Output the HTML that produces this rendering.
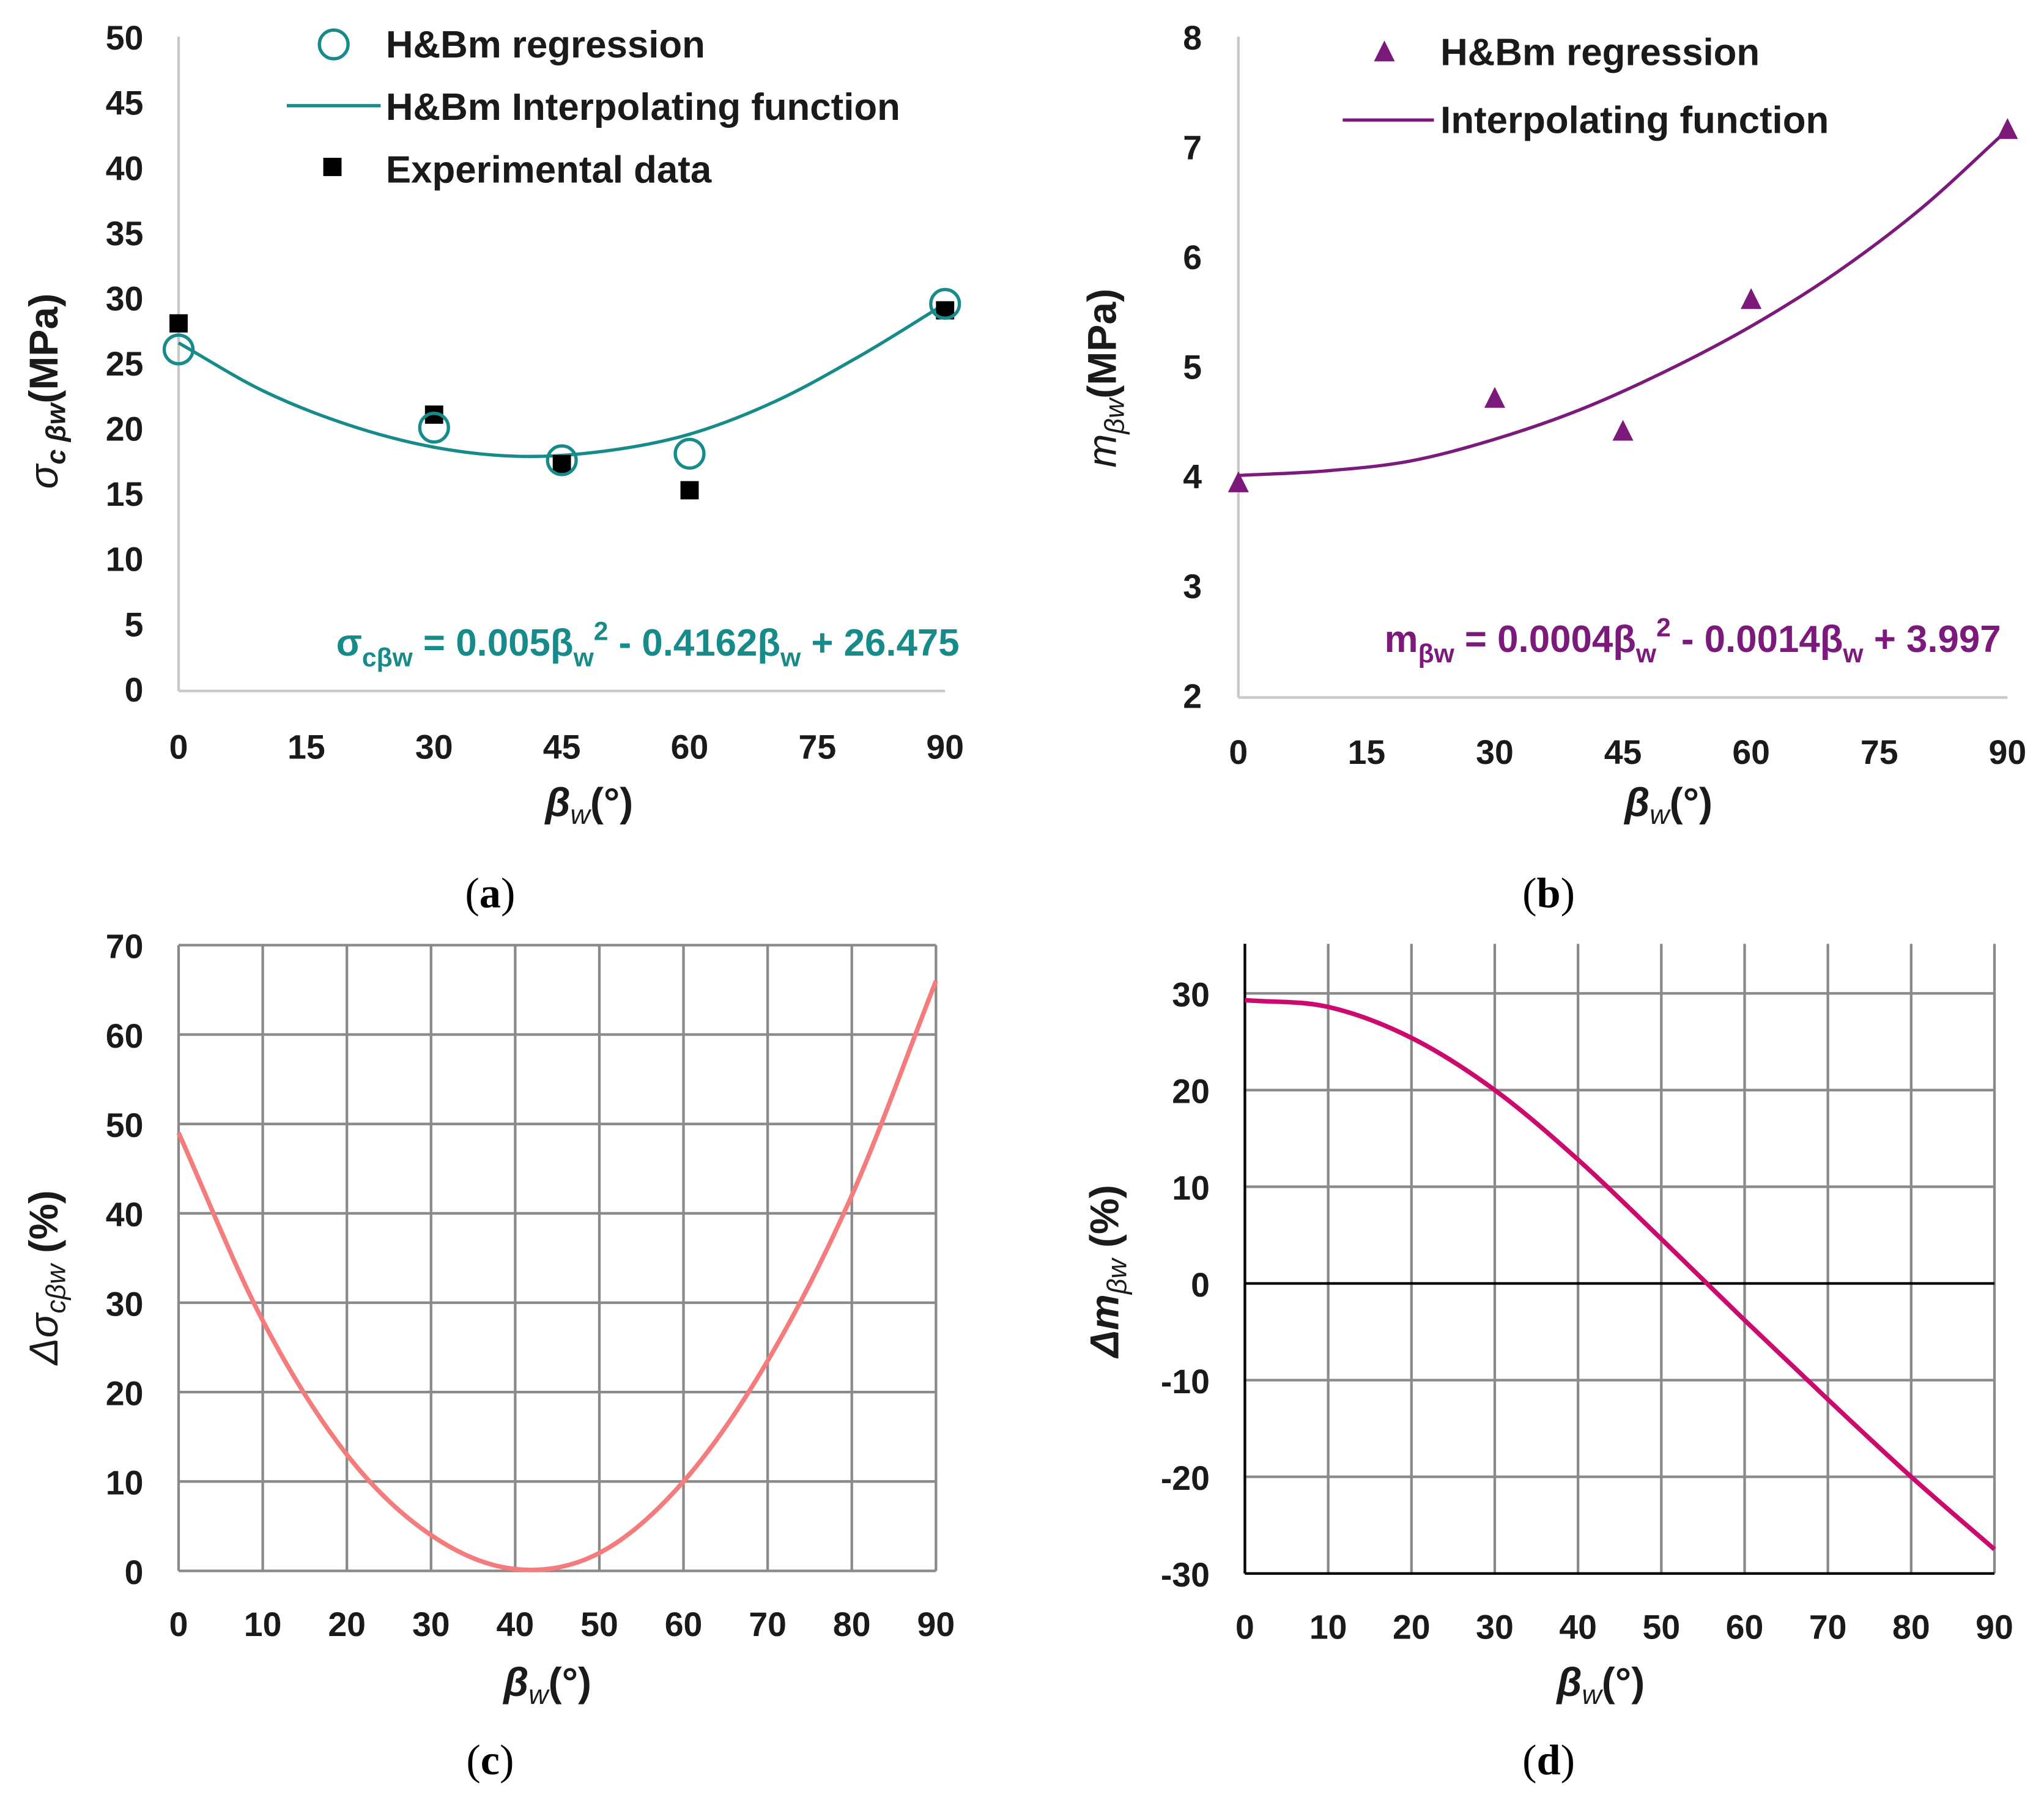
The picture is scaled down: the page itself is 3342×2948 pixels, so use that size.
<!DOCTYPE html>
<html><head><meta charset="utf-8">
<style>
html,body{margin:0;padding:0;background:#fff;}
svg{display:block;}
text{font-family:"Liberation Sans",sans-serif;}
.tk{font-size:26px;font-weight:bold;fill:#1a1a1a;}
.lg{font-size:29px;font-weight:bold;fill:#1a1a1a;}
.ax{font-size:31px;font-weight:bold;fill:#1a1a1a;}
.cap{font-family:"Liberation Serif",serif;font-size:33px;fill:#000;}
</style></head>
<body>
<svg id="fig" width="3342" height="2948" viewBox="0 0 1568 1383" xmlns="http://www.w3.org/2000/svg">
<g id="pa"></g>
<g id="pb"></g>
<g id="pc"></g>
<g id="pd"></g>
</svg>
<script>
// Panel a data
const aTicksX = [0,15,30,45,60,75,90];
const aTicksY = [0,5,10,15,20,25,30,35,40,45,50];
const aRegX = [0,30,45,60,90];
const aRegY = [26,20,17.5,18,29.5];
const aExpX = [0,30,45,60,90];
const aExpY = [28,21,17.2,15.2,29];
const aCurveX = [0,10,20,30,40,50,60,70,80,90];
const aCurveY = [26.5,22.8,20.2,18.5,17.8,18.2,19.5,22,25.5,29.5];
// Panel b data
const bTicksX = [0,15,30,45,60,75,90];
const bTicksY = [2,3,4,5,6,7,8];
const bRegX = [0,30,45,60,90];
const bRegY = [3.93,4.7,4.4,5.6,7.15];
const bCurveX = [0,10,20,30,40,50,60,70,80,90];
const bCurveY = [4.0,4.04,4.13,4.33,4.6,4.95,5.36,5.85,6.44,7.15];
// Panel c data
const cTicksX = [0,10,20,30,40,50,60,70,80,90];
const cTicksY = [0,10,20,30,40,50,60,70];
const cCurveX = [0,10,20,30,40,50,60,70,80,90];
const cCurveY = [49,28,13,4,0.2,2,10,23.5,42,66];
// Panel d data
const dTicksX = [0,10,20,30,40,50,60,70,80,90];
const dTicksY = [-30,-20,-10,0,10,20,30];
const dCurveX = [0,10,20,30,40,50,60,70,80,90];
const dCurveY = [29.3,28.6,25.4,20,12.8,4.6,-3.8,-12,-20,-27.5];

const NS='http://www.w3.org/2000/svg';
function mk(parent,tag,attrs,txt){const e=document.createElementNS(NS,tag);for(const k in attrs)e.setAttribute(k,attrs[k]);if(txt!==undefined)e.textContent=txt;parent.appendChild(e);return e;}
function lin(d0,d1,r0,r1){return v=>r0+(v-d0)/(d1-d0)*(r1-r0);}
function smooth(pts){
  // extrapolate ghost endpoints for smoother ends
  const n=pts.length;
  const g0=[2*pts[0][0]-pts[1][0],2*pts[0][1]-pts[1][1]];
  const gn=[2*pts[n-1][0]-pts[n-2][0],2*pts[n-1][1]-pts[n-2][1]];
  const P=[g0].concat(pts,[gn]);
  let d='M'+pts[0][0]+','+pts[0][1];
  for(let i=1;i<P.length-2;i++){const p0=P[i-1],p1=P[i],p2=P[i+1],p3=P[i+2];
    const c1=[p1[0]+(p2[0]-p0[0])/6,p1[1]+(p2[1]-p0[1])/6],c2=[p2[0]-(p3[0]-p1[0])/6,p2[1]-(p3[1]-p1[1])/6];
    d+=' C'+c1+' '+c2+' '+p2;}
  return d;}

// ---------- Panel a ----------
(function(){
const g=document.getElementById('pa');
const X=lin(0,90,137,725),Y=lin(0,50,528,28);
let e;
e=mk(g,'line',{x1:137,y1:28,x2:137,y2:530,stroke:'#c8c8c8','stroke-width':2});

e=mk(g,'line',{x1:137,y1:530,x2:725,y2:530,stroke:'#c8c8c8','stroke-width':2});

aTicksY.forEach(v=>{e=mk(g,'text',{x:110,y:Y(v)+10,'text-anchor':'end',class:'tk'},v);
});
aTicksX.forEach(v=>{e=mk(g,'text',{x:X(v),y:582,'text-anchor':'middle',class:'tk'},v);
});
e=mk(g,'path',{d:smooth(aCurveX.map((x,i)=>[X(x),Y(aCurveY[i])])),fill:'none',stroke:'#178a8a','stroke-width':2.5});

aExpX.forEach((x,i)=>{e=mk(g,'rect',{x:X(x)-7,y:Y(aExpY[i])-7,width:14,height:14,fill:'#000'});
});
aRegX.forEach((x,i)=>{e=mk(g,'circle',{cx:X(x),cy:Y(aRegY[i]),r:11,fill:'none',stroke:'#178a8a','stroke-width':2.5});
});
e=mk(g,'circle',{cx:256,cy:34,r:11,fill:'none',stroke:'#178a8a','stroke-width':2.5});

e=mk(g,'text',{x:296,y:44,class:'lg'},'H&Bm regression');

e=mk(g,'line',{x1:220,y1:81,x2:292,y2:81,stroke:'#178a8a','stroke-width':2.5});

e=mk(g,'text',{x:296,y:92,class:'lg'},'H&Bm Interpolating function');

e=mk(g,'rect',{x:248,y:121,width:14,height:14,fill:'#000'});

e=mk(g,'text',{x:296,y:140,class:'lg'},'Experimental data');

e=mk(g,'text',{x:736,y:503,'text-anchor':'end',class:'lg',style:'fill:#178a8a'});
e.innerHTML='σ<tspan font-size="20" dy="8">cβw</tspan><tspan dy="-8"> = 0.005β</tspan><tspan font-size="20" dy="8">w</tspan><tspan font-size="20" dy="-20">2</tspan><tspan dy="12"> - 0.4162β</tspan><tspan font-size="20" dy="8">w</tspan><tspan dy="-8"> + 26.475</tspan>';

e=mk(g,'text',{x:0,y:0,class:'ax',transform:'translate(44,300) rotate(-90)','text-anchor':'middle'});
e.innerHTML='<tspan font-style="italic" font-weight="normal">σ</tspan><tspan font-size="21" font-style="italic" dy="6">c βw</tspan><tspan dy="-6">(MPa)</tspan>';

e=mk(g,'text',{x:452,y:626,'text-anchor':'middle',class:'ax'});
e.innerHTML='<tspan font-style="italic">β</tspan><tspan font-size="21" font-style="italic" font-weight="normal" dy="6">w</tspan><tspan dy="-6">(°)</tspan>';

e=mk(g,'text',{x:376,y:696,'text-anchor':'middle',class:'cap'});
e.innerHTML='(<tspan font-weight="bold">a</tspan>)';

})();

// ---------- Panel b ----------
(function(){
const g=document.getElementById('pb');
const X=lin(0,90,950,1540),Y=lin(2,8,533,28);
const col='#7b1a7b';let e;
e=mk(g,'line',{x1:950,y1:28,x2:950,y2:535,stroke:'#c8c8c8','stroke-width':2});

e=mk(g,'line',{x1:950,y1:535,x2:1540,y2:535,stroke:'#c8c8c8','stroke-width':2});

bTicksY.forEach(v=>{e=mk(g,'text',{x:922,y:Y(v)+10,'text-anchor':'end',class:'tk'},v);
});
bTicksX.forEach(v=>{e=mk(g,'text',{x:X(v),y:586,'text-anchor':'middle',class:'tk'},v);
});
e=mk(g,'path',{d:smooth(bCurveX.map((x,i)=>[X(x),Y(bCurveY[i])])),fill:'none',stroke:col,'stroke-width':2.5});

bRegX.forEach((x,i)=>{const cx=X(x),cy=Y(bRegY[i]);e=mk(g,'polygon',{points:`${cx},${cy-9} ${cx-8},${cy+7} ${cx+8},${cy+7}`,fill:col});
});
e=mk(g,'polygon',{points:'1062,31 1054,47 1070,47',fill:col});

e=mk(g,'text',{x:1105,y:50,class:'lg'},'H&Bm regression');

e=mk(g,'line',{x1:1030,y1:92,x2:1100,y2:92,stroke:col,'stroke-width':2.5});

e=mk(g,'text',{x:1105,y:102,class:'lg'},'Interpolating function');

e=mk(g,'text',{x:1535,y:500,'text-anchor':'end',class:'lg',style:'fill:'+col});
e.innerHTML='m<tspan font-size="20" dy="8">βw</tspan><tspan dy="-8"> = 0.0004β</tspan><tspan font-size="20" dy="8">w</tspan><tspan font-size="20" dy="-20">2</tspan><tspan dy="12"> - 0.0014β</tspan><tspan font-size="20" dy="8">w</tspan><tspan dy="-8"> + 3.997</tspan>';

e=mk(g,'text',{x:0,y:0,class:'ax',transform:'translate(856,290) rotate(-90)','text-anchor':'middle'});
e.innerHTML='<tspan font-style="italic" font-weight="normal">m</tspan><tspan font-size="21" font-style="italic" font-weight="normal" dy="6">βw</tspan><tspan dy="-6">(MPa)</tspan>';

e=mk(g,'text',{x:1280,y:626,'text-anchor':'middle',class:'ax'});
e.innerHTML='<tspan font-style="italic">β</tspan><tspan font-size="21" font-style="italic" font-weight="normal" dy="6">w</tspan><tspan dy="-6">(°)</tspan>';

e=mk(g,'text',{x:1188,y:696,'text-anchor':'middle',class:'cap'});
e.innerHTML='(<tspan font-weight="bold">b</tspan>)';

})();

// ---------- Panel c ----------
(function(){
const g=document.getElementById('pc');
const X=lin(0,90,137,718),Y=lin(0,70,1205,725);let e;
cTicksX.forEach(v=>{e=mk(g,'line',{x1:X(v),y1:725,x2:X(v),y2:1205,stroke:'#8a8a8a','stroke-width':2});

e=mk(g,'text',{x:X(v),y:1255,'text-anchor':'middle',class:'tk'},v);
});
cTicksY.forEach(v=>{e=mk(g,'line',{x1:137,y1:Y(v),x2:718,y2:Y(v),stroke:'#8a8a8a','stroke-width':2});

e=mk(g,'text',{x:110,y:Y(v)+10,'text-anchor':'end',class:'tk'},v);
});
e=mk(g,'path',{d:smooth(cCurveX.map((x,i)=>[X(x),Y(cCurveY[i])])),fill:'none',stroke:'#f47c7c','stroke-width':3.5});

e=mk(g,'text',{x:0,y:0,class:'ax',transform:'translate(44,980) rotate(-90)','text-anchor':'middle'});
e.innerHTML='<tspan font-style="italic" font-weight="normal">Δσ</tspan><tspan font-size="21" font-style="italic" font-weight="normal" dy="6">cβw</tspan><tspan dy="-6"> (%)</tspan>';

e=mk(g,'text',{x:420,y:1301,'text-anchor':'middle',class:'ax'});
e.innerHTML='<tspan font-style="italic">β</tspan><tspan font-size="21" font-style="italic" font-weight="normal" dy="6">w</tspan><tspan dy="-6">(°)</tspan>';

e=mk(g,'text',{x:376,y:1361,'text-anchor':'middle',class:'cap'});
e.innerHTML='(<tspan font-weight="bold">c</tspan>)';

})();

// ---------- Panel d ----------
(function(){
const g=document.getElementById('pd');
const X=lin(0,90,955,1530),Y=lin(-30,30,1207,762);let e;
dTicksX.forEach(v=>{e=mk(g,'line',{x1:X(v),y1:724,x2:X(v),y2:1207,stroke:'#8a8a8a','stroke-width':2});

e=mk(g,'text',{x:X(v),y:1257,'text-anchor':'middle',class:'tk'},v);
});
dTicksY.forEach(v=>{e=mk(g,'line',{x1:955,y1:Y(v),x2:1530,y2:Y(v),stroke:v===0||v===-30?'#000':'#8a8a8a','stroke-width':2});

e=mk(g,'text',{x:928,y:Y(v)+10,'text-anchor':'end',class:'tk'},v);
});
e=mk(g,'line',{x1:955,y1:724,x2:955,y2:1207,stroke:'#000','stroke-width':2});

e=mk(g,'path',{d:smooth(dCurveX.map((x,i)=>[X(x),Y(dCurveY[i])])),fill:'none',stroke:'#cc0a6e','stroke-width':3.5});

e=mk(g,'text',{x:0,y:0,class:'ax',transform:'translate(858,975) rotate(-90)','text-anchor':'middle'});
e.innerHTML='<tspan font-style="italic">Δm</tspan><tspan font-size="21" font-style="italic" font-weight="normal" dy="6">βw</tspan><tspan dy="-6">  (%)</tspan>';

e=mk(g,'text',{x:1228,y:1301,'text-anchor':'middle',class:'ax'});
e.innerHTML='<tspan font-style="italic">β</tspan><tspan font-size="21" font-style="italic" font-weight="normal" dy="6">w</tspan><tspan dy="-6">(°)</tspan>';

e=mk(g,'text',{x:1188,y:1361,'text-anchor':'middle',class:'cap'});
e.innerHTML='(<tspan font-weight="bold">d</tspan>)';

})();
</script>
</body></html>
